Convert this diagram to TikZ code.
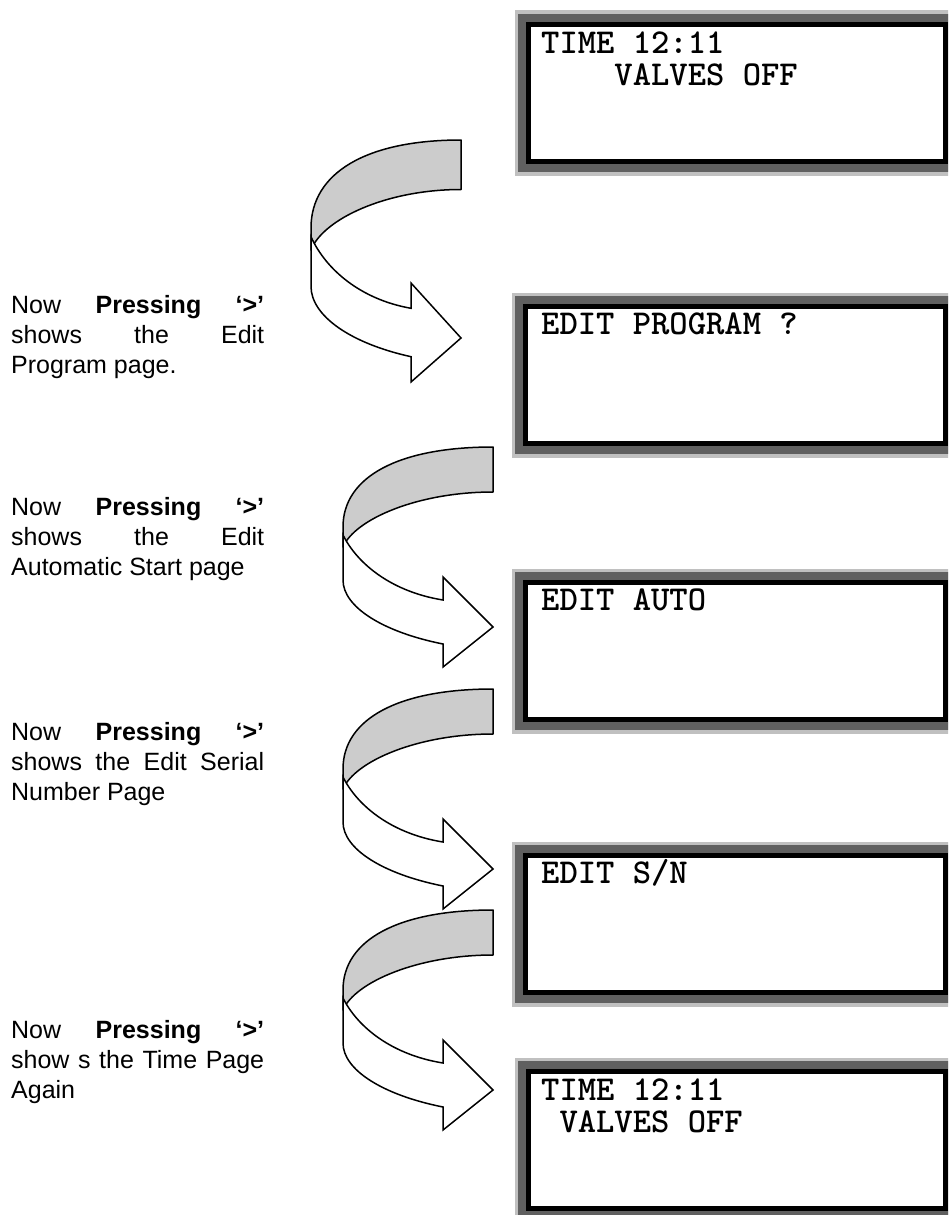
\documentclass[tikz,border=0pt]{standalone}
\usepackage{fontspec}
\newfontfamily\arialf{Liberation Sans}
\definecolor{frameLight}{HTML}{C0C0C0}
\definecolor{frameDark}{HTML}{606060}
\definecolor{bandGray}{HTML}{CCCCCC}
\tolerance=10000
\hbadness=10000
\hyphenpenalty=10000
\exhyphenpenalty=10000
\tikzset{
  lcd/.style={rectangle, draw=black, line width=5pt, fill=white, anchor=north west,
    minimum height=137pt, inner sep=0pt,
    preaction={draw=frameLight, line width=28pt},
    preaction={draw=frameDark, line width=21pt}},
  lcdtext/.style={anchor=base west, inner sep=0pt, font=\ttfamily\bfseries\fontsize{34.9}{33}\selectfont},
  note/.style={anchor=north west, inner sep=0pt, text width=253pt, align=justify,
    font=\arialf\fontsize{25}{30}\selectfont},
  band/.style={draw=black, line width=1.5pt, fill=bandGray, line join=round},
  front/.style={draw=black, line width=1.5pt, fill=white, line join=miter},
  uturn/.pic={
    \path[band] (0,0) .. controls (-95,0) and (-150,30) .. (-150,80) -- (-150,100)
       .. controls (-138,72) and (-75,45) .. (0,45) -- cycle;
    \path[front] (-150,88) .. controls (-135,118) and (-100,145) .. (-50,153)
       -- (-50,130) -- (0,180) -- (-50,220) -- (-50,197)
       .. controls (-110,185) and (-150,160) .. (-150,133) -- cycle;
  }
}
\begin{document}
\begin{tikzpicture}[x=1pt,y=-1pt]
\useasboundingbox (0,0) rectangle (948,1215);
\clip (0,0) rectangle (948,1215);

% LCD screens
\node[lcd, minimum width=416.5pt] (b1) at (526,22) {};
\node[lcd, minimum width=419.5pt] (b2) at (523,304) {};
\node[lcd, minimum width=419.5pt] (b3) at (523,580) {};
\node[lcd, minimum width=419.5pt] (b4) at (523,853) {};
\node[lcd, minimum width=416.5pt] (b5) at (526,1069) {};

\node[lcdtext] (t1a) at (541,53) {TIME 12:11};
\node[lcdtext] (t1b) at (541,85) {\hphantom{TIME}VALVES OFF};
\node[lcdtext] (t2) at (541,334) {EDIT PROGRAM ?};
\node[lcdtext] (t3) at (541,610) {EDIT AUTO};
\node[lcdtext] (t4) at (541,883) {EDIT S/N};
\node[lcdtext] (t5a) at (541,1100) {TIME 12:11};
\node[lcdtext] (t5b) at (541,1132) {\hphantom{T}VALVES OFF};

% curved arrows
\pic[yscale=1.1] (a1) at (461,140) {uturn};
\pic (a2) at (493,447) {uturn};
\pic (a3) at (493,689) {uturn};
\pic (a4) at (493,910) {uturn};

% notes
\node[note] (n1) at (11,295) {Now \textbf{Pressing ‘>’} shows the Edit Program page.};
\node[note] (n2) at (11,497) {Now \textbf{Pressing ‘>’} shows the Edit Automatic Start page};
\node[note] (n3) at (11,722) {Now \textbf{Pressing ‘>’} shows the Edit Serial Number Page};
\node[note] (n4) at (11,1020) {Now \textbf{Pressing ‘>’} show s the Time Page Again};
\end{tikzpicture}
\end{document}
